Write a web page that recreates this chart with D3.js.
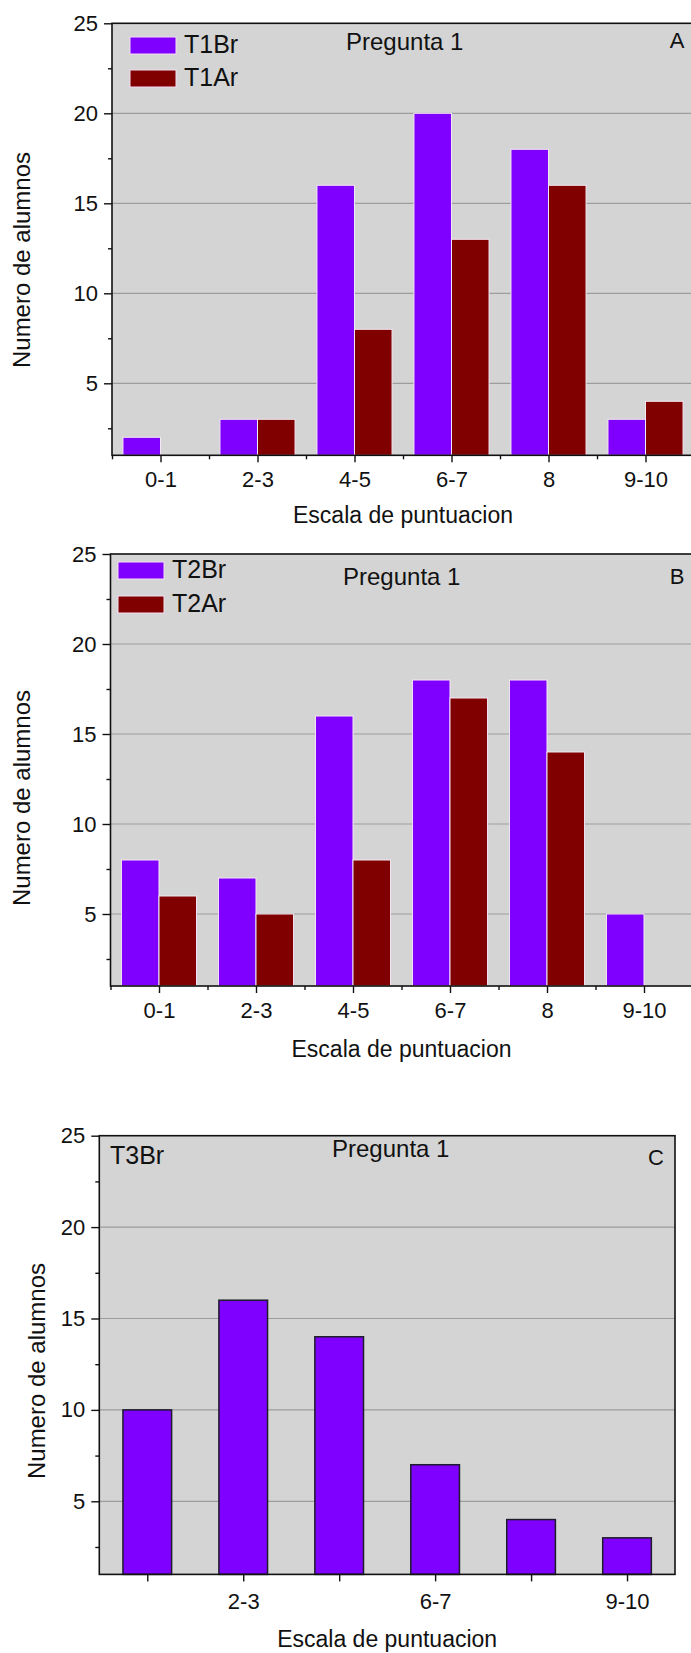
<!DOCTYPE html>
<html>
<head>
<meta charset="utf-8">
<script src="https://cdn.jsdelivr.net/npm/d3@7"></script>
<style>
  body { margin: 0; background: #fff; }
  svg { display: block; }
  text { font-family: "Liberation Sans", Arial, sans-serif; fill: #111; }
</style>
</head>
<body>
<svg id="chart" width="691" height="1653"></svg>
<script>
// Score ranges and student counts per group
const categories = ["0-1", "2-3", "4-5", "6-7", "8", "9-10"];
const t1Br = [2, 3, 16, 20, 18, 3];
const t1Ar = [0, 3, 8, 13, 16, 4];
const t2Br = [8, 7, 16, 18, 18, 5];
const t2Ar = [6, 5, 8, 17, 14, 0];
const t3Br = [10, 16, 14, 7, 4, 3];

const yTicks = [5, 10, 15, 20, 25];
const yMinorTicks = [2.5, 7.5, 12.5, 17.5, 22.5];
const gridValues = [5, 10, 15, 20];
const panelCLabels = ["2-3", "6-7", "9-10"];

const colorBr = "#8000ff";
const colorAr = "#800000";
const yDomain = [1, 25];

const svg = d3.select("#chart");

function drawPanel(p) {
  const g = svg.append("g");
  const y = d3.scaleLinear().domain(yDomain).range([p.bottom, p.top]);
  const xLin = d3.scaleLinear().domain([0.5, 6.5]).range([p.left, p.right]);
  const xBand = d3.scaleBand().domain(categories).range([p.left, p.right])
    .paddingInner(p.padInner).paddingOuter(p.padInner / 2);

  // plot background
  g.append("rect").attr("x", p.left).attr("y", p.top)
    .attr("width", p.right - p.left).attr("height", p.bottom - p.top)
    .attr("fill", "#d4d4d4");

  // horizontal grid
  g.selectAll("line.grid").data(gridValues).join("line")
    .attr("x1", p.left).attr("x2", p.right)
    .attr("y1", d => y(d)).attr("y2", d => y(d))
    .attr("stroke", "#9d9d9d").attr("stroke-width", 1.2);

  // bars
  const sub = d3.scaleBand().domain(p.series.map(s => s.key)).range([0, xBand.bandwidth()]);
  p.series.forEach(s => {
    const rows = categories.map((c, i) => ({ c, v: s.values[i] })).filter(d => d.v > yDomain[0]);
    g.selectAll(null).data(rows).join("rect")
      .attr("x", d => xBand(d.c) + sub(s.key))
      .attr("width", sub.bandwidth())
      .attr("y", d => y(d.v))
      .attr("height", d => y(yDomain[0]) - y(d.v))
      .attr("fill", s.color)
      .attr("stroke", p.barStroke).attr("stroke-width", p.barStrokeWidth);
  });

  // frame
  g.append("rect").attr("x", p.left).attr("y", p.top)
    .attr("width", p.right - p.left).attr("height", p.bottom - p.top)
    .attr("fill", "none").attr("stroke", "#111").attr("stroke-width", 1.6);

  // y axis: major and minor ticks
  const yAxis = g.append("g").attr("transform", `translate(${p.left},0)`)
    .call(d3.axisLeft(y).tickValues(yTicks).tickSize(8).tickPadding(6).tickFormat(d3.format("d")));
  yAxis.select(".domain").remove();
  yAxis.selectAll("line").attr("stroke", "#111").attr("stroke-width", 1.4);
  yAxis.selectAll("text").attr("font-size", 22).attr("fill", "#111")
    .attr("font-family", "Liberation Sans, Arial, sans-serif");
  const yMinor = g.append("g").attr("transform", `translate(${p.left},0)`)
    .call(d3.axisLeft(y).tickValues(yMinorTicks).tickSize(4).tickFormat(""));
  yMinor.select(".domain").remove();
  yMinor.selectAll("line").attr("stroke", "#111").attr("stroke-width", 1.4);

  // x axis
  const xAxis = g.append("g").attr("transform", `translate(0,${p.bottom})`)
    .call(d3.axisBottom(xLin).tickValues(d3.range(1, 7)).tickSize(7)
      .tickFormat(i => p.xLabels.includes(categories[i - 1]) ? categories[i - 1] : ""));
  xAxis.select(".domain").remove();
  xAxis.selectAll("line").attr("stroke", "#111").attr("stroke-width", 1.4);
  xAxis.selectAll("text").attr("font-size", 22).attr("fill", "#111")
    .attr("font-family", "Liberation Sans, Arial, sans-serif")
    .attr("y", p.xLabelBaseline).attr("dy", 0);
  if (p.xMinor) {
    const xMinor = g.append("g").attr("transform", `translate(0,${p.bottom})`)
      .call(d3.axisBottom(xLin).tickValues(d3.range(0.5, 7, 1)).tickSize(4).tickFormat(""));
    xMinor.select(".domain").remove();
    xMinor.selectAll("line").attr("stroke", "#111").attr("stroke-width", 1.4);
  }

  // axis titles
  g.append("text").attr("x", (p.left + p.right) / 2).attr("y", p.bottom + p.xTitleBaseline)
    .attr("text-anchor", "middle").attr("font-size", 23).text("Escala de puntuacion");
  g.append("text")
    .attr("transform", `translate(${p.yTitleX},${p.yTitleY}) rotate(-90)`)
    .attr("text-anchor", "middle").attr("dy", "0.35em").attr("font-size", 24)
    .text("Numero de alumnos");

  // in-plot annotations
  g.append("text").attr("x", p.titleX).attr("y", p.titleY)
    .attr("font-size", 24).text("Pregunta 1");
  g.append("text").attr("x", p.letterX).attr("y", p.letterY)
    .attr("text-anchor", "middle").attr("font-size", 22).text(p.letter);

  // legend
  p.legend.forEach((l, i) => {
    if (l.swatch) {
      g.append("rect").attr("x", l.x).attr("y", l.y - 16).attr("width", 46).attr("height", 17)
        .attr("fill", l.color).attr("stroke", "#f3dcf3").attr("stroke-width", 1);
    }
    g.append("text").attr("x", l.tx).attr("y", l.y).attr("font-size", 25).text(l.label);
  });
}

drawPanel({
  left: 112, right: 694, top: 23.3, bottom: 455.3, padInner: 0.226,
  series: [{ key: "T1Br", values: t1Br, color: colorBr }, { key: "T1Ar", values: t1Ar, color: colorAr }],
  barStroke: "#f4e6f4", barStrokeWidth: 1,
  xLabels: categories, xMinor: true, xLabelBaseline: 32, xTitleBaseline: 68,
  yTitleX: 22, yTitleY: 260,
  titleX: 346, titleY: 50, letter: "A", letterX: 677, letterY: 48,
  legend: [
    { swatch: true, x: 130, y: 53, tx: 184, color: colorBr, label: "T1Br" },
    { swatch: true, x: 130, y: 86, tx: 184, color: colorAr, label: "T1Ar" }
  ]
});

drawPanel({
  left: 110.5, right: 692.5, top: 554, bottom: 986, padInner: 0.226,
  series: [{ key: "T2Br", values: t2Br, color: colorBr }, { key: "T2Ar", values: t2Ar, color: colorAr }],
  barStroke: "#f4e6f4", barStrokeWidth: 1,
  xLabels: categories, xMinor: true, xLabelBaseline: 32, xTitleBaseline: 71,
  yTitleX: 22, yTitleY: 798,
  titleX: 343, titleY: 585, letter: "B", letterX: 677, letterY: 584,
  legend: [
    { swatch: true, x: 118, y: 578, tx: 172, color: colorBr, label: "T2Br" },
    { swatch: true, x: 118, y: 612, tx: 172, color: colorAr, label: "T2Ar" }
  ]
});

drawPanel({
  left: 99.3, right: 675, top: 1135.7, bottom: 1574.4, padInner: 0.493,
  series: [{ key: "T3Br", values: t3Br, color: colorBr }],
  barStroke: "#1c1c2a", barStrokeWidth: 1.5,
  xLabels: panelCLabels, xMinor: false, xLabelBaseline: 35, xTitleBaseline: 73,
  yTitleX: 37, yTitleY: 1371,
  titleX: 332, titleY: 1157, letter: "C", letterX: 656, letterY: 1165,
  legend: [
    { swatch: false, x: 110, y: 1164, tx: 110, color: colorBr, label: "T3Br" }
  ]
});
</script>
</body>
</html>
